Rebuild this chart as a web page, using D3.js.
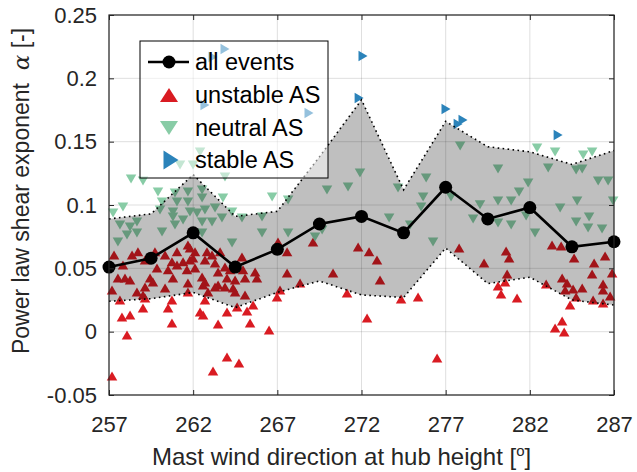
<!DOCTYPE html>
<html><head><meta charset="utf-8">
<script src="https://cdn.jsdelivr.net/npm/d3@7"></script>
<style>
body{margin:0;background:#fff}
svg{display:block}
text{font-family:"Liberation Sans",Arial,Helvetica,sans-serif;fill:#262626;white-space:pre}
</style>
</head><body>
<svg id="chart" width="637" height="472"></svg>
<script>
// ---------- data ----------
const binDir = [257,259.5,262,264.5,267,269.5,272,274.5,277,279.5,282,284.5,287];
const meanAlpha  = [0.051,0.058,0.078,0.051,0.065,0.085,0.091,0.078,0.114,0.089,0.098,0.067,0.071];
const upperAlpha = [0.089,0.093,0.124,0.091,0.095,0.138,0.183,0.112,0.166,0.146,0.142,0.132,0.143];
const lowerAlpha = [0.024,0.026,0.031,0.019,0.031,0.040,0.029,0.027,0.066,0.038,0.043,0.025,0.021];

const xTicks = [257,262,267,272,277,282,287];
const yTicks = [-0.05,0,0.05,0.1,0.15,0.2,0.25];
const yTickLabels = ["-0.05","0","0.05","0.1","0.15","0.2","0.25"];
const legendLabels = ["all events","unstable AS","neutral AS","stable AS"];

const unstable = [
 [257.30,0.0606],[258.37,0.0606],[258.72,0.0630],[259.73,0.0630],[260.33,0.0606],[261.04,0.0630],
 [261.69,0.0685],[261.81,0.0661],[262.11,0.0630],[262.82,0.0630],[263.12,0.0606],[263.60,0.0630],
 [264.90,0.0590],[267.04,0.0708],[267.58,0.0630],[269.12,0.0708],[257.83,0.0527],[259.14,0.0566],
 [260.74,0.0551],[261.40,0.0551],[261.81,0.0566],[261.99,0.0582],[262.70,0.0566],[263.30,0.0543],
 [263.89,0.0511],[259.85,0.0503],[260.51,0.0488],[261.04,0.0527],[261.63,0.0488],[262.11,0.0503],
 [263.48,0.0472],[264.19,0.0488],[264.96,0.0488],[265.68,0.0472],[267.58,0.0464],[270.31,0.0464],
 [257.53,0.0424],[257.95,0.0424],[258.25,0.0408],[259.44,0.0424],[259.61,0.0393],[260.80,0.0424],
 [262.53,0.0432],[262.70,0.0393],[263.48,0.0369],[264.01,0.0424],[264.49,0.0408],[265.08,0.0424],
 [265.79,0.0424],[261.69,0.0385],[257.18,0.0329],[258.66,0.0314],[259.14,0.0353],[259.02,0.0290],
 [260.33,0.0345],[261.69,0.0314],[262.59,0.0369],[262.88,0.0314],[263.30,0.0353],[263.89,0.0353],
 [264.37,0.0345],[264.49,0.0314],[265.08,0.0290],[268.35,0.0385],[267.16,0.0329],[271.14,0.0306],
 [257.65,0.0250],[259.14,0.0266],[260.74,0.0250],[262.70,0.0250],[266.98,0.0274],[265.56,0.0211],
 [264.61,0.0195],[265.20,0.0164],[264.01,0.0156],[259.02,0.0187],[260.51,0.0187],[262.41,0.0156],
 [262.59,0.0132],[258.25,0.0132],[257.77,0.0116],[260.74,0.0069],[263.48,0.0061],[265.38,0.0069],
 [266.51,0.0013],[258.07,-0.0026],[257.18,-0.0350],[263.18,-0.0310],[264.01,-0.0200],[264.72,-0.0247],
 [271.80,0.0669],[272.45,0.0630],[272.92,0.0566],[273.10,0.0408],[272.33,0.0108],[274.35,0.0258],
 [275.36,0.0274],[277.80,0.0661],[279.28,0.0543],[280.59,0.0637],[280.77,0.0582],[280.65,0.0456],
 [280.53,0.0393],[280.11,0.0361],[280.29,0.0298],[281.24,0.0266],[283.32,0.0685],[283.86,0.0677],
 [284.63,0.0582],[286.47,0.0598],[285.82,0.0543],[283.92,0.0424],[284.21,0.0385],[282.97,0.0377],
 [284.10,0.0329],[284.57,0.0337],[285.11,0.0345],[285.70,0.0456],[286.89,0.0464],[286.35,0.0377],
 [286.35,0.0329],[286.77,0.0282],[285.76,0.0250],[286.35,0.0227],[284.75,0.0274],[284.39,0.0211],
 [283.50,0.0029],[283.92,0.0084],[284.04,-0.0002],[276.49,-0.0208]
];

const neutral = [
 [258.31,0.1206],[259.02,0.1190],[263.89,0.1221],[259.91,0.1103],[260.92,0.1095],[261.69,0.1103],
 [262.53,0.1119],[263.77,0.1056],[262.53,0.1056],[266.69,0.1063],[267.64,0.1040],[269.95,0.1119],
 [271.20,0.1142],[261.22,0.1316],[261.99,0.1316],[262.41,0.1419],
 [260.15,0.1024],[261.04,0.1024],[261.69,0.1024],[257.83,0.0985],[257.24,0.0937],[260.03,0.0961],
 [260.80,0.0945],[261.81,0.0945],[262.70,0.0961],[263.30,0.0977],[260.80,0.0906],[261.40,0.0882],
 [262.53,0.0866],[263.12,0.0866],[263.71,0.0898],[264.90,0.0898],[266.09,0.0906],[264.31,0.0945],
 [262.23,0.0937],
 [257.65,0.0842],[258.25,0.0827],[258.66,0.0866],[258.07,0.0763],[258.66,0.0779],[257.53,0.0708],
 [260.92,0.0842],[260.15,0.0787],[262.53,0.0779],[264.31,0.0700],[266.09,0.0779],[267.64,0.0779],
 [269.24,0.0748],[269.66,0.0803],
 [271.91,0.1253],[274.17,0.1135],[275.84,0.1213],[277.86,0.1466],[280.11,0.1284],[282.43,0.1450],
 [283.50,0.1419],[283.09,0.1292],[284.75,0.1276],[285.11,0.1284],[285.17,0.1395],[285.70,0.1419],
 [286.06,0.1190],[286.65,0.1190],[286.95,0.1032],[275.66,0.1063],[275.54,0.0985],[277.32,0.1063],
 [279.04,0.1001],[280.11,0.1032],[280.89,0.1032],[281.36,0.1103],[281.90,0.1174],[273.64,0.0898],
 [274.89,0.0842],[276.25,0.0708],[278.63,0.0890],[280.11,0.0858],[280.89,0.0842],[281.78,0.0914],
 [282.31,0.0779],[283.80,0.0977],[284.81,0.1032],[285.52,0.0906],[284.75,0.0866],[285.46,0.0819],
 [286.29,0.0811]
];

const stable = [
 [263.18,0.2168],[263.89,0.2231],[262.70,0.1789],[268.88,0.1726],[272.09,0.2176],[271.86,0.1845],
 [277.02,0.1758],[277.74,0.1640],[278.03,0.1671],[283.68,0.1553]
];

// ---------- layout ----------
const m = {left:109, right:614, top:15, bottom:395};
const colRed = "#d91b22", colGreen = "#88cca6", colBlue = "#2b83ba", axisCol = "#262626";

const svg = d3.select("#chart");
const x = d3.scaleLinear().domain([257,287]).range([m.left, m.right]);
const y = d3.scaleLinear().domain([-0.05,0.25]).range([m.bottom, m.top]);

// marker shapes
function triUp(w,h){return `M0,${-h/2}L${w/2},${h/2}L${-w/2},${h/2}Z`;}
function triDown(w,h){return `M0,${h/2}L${w/2},${-h/2}L${-w/2},${-h/2}Z`;}
function triRight(w,h){return `M${w/2},0L${-w/2},${-h/2}L${-w/2},${h/2}Z`;}

// grid
const grid = svg.append("g");
grid.selectAll("line.gx").data(xTicks).join("line")
  .attr("x1",d=>x(d)).attr("x2",d=>x(d)).attr("y1",m.top).attr("y2",m.bottom)
  .attr("stroke",axisCol).attr("stroke-opacity",0.15).attr("stroke-width",1);
grid.selectAll("line.gy").data(yTicks).join("line")
  .attr("y1",d=>y(d)).attr("y2",d=>y(d)).attr("x1",m.left).attr("x2",m.right)
  .attr("stroke",axisCol).attr("stroke-opacity",0.15).attr("stroke-width",1);

// scatter markers
const pts = svg.append("g");
pts.selectAll("path.u").data(unstable).join("path")
  .attr("d",triUp(10.5,9)).attr("transform",d=>`translate(${x(d[0])},${y(d[1])})`).attr("fill",colRed);
pts.selectAll("path.n").data(neutral).join("path")
  .attr("d",triDown(10.5,9)).attr("transform",d=>`translate(${x(d[0])},${y(d[1])})`).attr("fill",colGreen);
pts.selectAll("path.s").data(stable).join("path")
  .attr("d",triRight(9,10.5)).attr("transform",d=>`translate(${x(d[0])},${y(d[1])})`).attr("fill",colBlue);

// band
const bandData = binDir.map((d,i)=>({d, lo:lowerAlpha[i], hi:upperAlpha[i]}));
svg.append("path").datum(bandData)
  .attr("d", d3.area().x(d=>x(d.d)).y0(d=>y(d.lo)).y1(d=>y(d.hi)))
  .attr("fill","#000").attr("fill-opacity",0.25);
[ "hi","lo" ].forEach(k=>{
  svg.append("path").datum(bandData)
    .attr("d", d3.line().x(d=>x(d.d)).y(d=>y(d[k])))
    .attr("fill","none").attr("stroke","#000").attr("stroke-width",1.6)
    .attr("stroke-dasharray","1.6,3.4");
});

// mean line
const meanData = binDir.map((d,i)=>[d, meanAlpha[i]]);
svg.append("path").datum(meanData)
  .attr("d", d3.line().x(d=>x(d[0])).y(d=>y(d[1])))
  .attr("fill","none").attr("stroke","#000").attr("stroke-width",2.6);
svg.append("g").selectAll("circle").data(meanData).join("circle")
  .attr("cx",d=>x(d[0])).attr("cy",d=>y(d[1])).attr("r",6.5).attr("fill","#000");

// axes
const gB = svg.append("g").attr("transform",`translate(0,${m.bottom})`)
  .call(d3.axisBottom(x).tickValues(xTicks).tickFormat(d3.format("d")).tickSize(-5).tickSizeOuter(0).tickPadding(21));
const gT = svg.append("g").attr("transform",`translate(0,${m.top})`)
  .call(d3.axisTop(x).tickValues(xTicks).tickFormat("").tickSize(-5).tickSizeOuter(0));
const gL = svg.append("g").attr("transform",`translate(${m.left},0)`)
  .call(d3.axisLeft(y).tickValues(yTicks).tickFormat((d,i)=>yTickLabels[i]).tickSize(-5).tickSizeOuter(0).tickPadding(12));
const gR = svg.append("g").attr("transform",`translate(${m.right},0)`)
  .call(d3.axisRight(y).tickValues(yTicks).tickFormat("").tickSize(-5).tickSizeOuter(0));
[gB,gT,gL,gR].forEach(g=>{
  g.select(".domain").remove();
  g.selectAll(".tick line").attr("stroke",axisCol).attr("stroke-width",1);
  g.selectAll(".tick text").attr("fill",axisCol).style("font-size","22px")
    .style("font-family",'"Liberation Sans",Arial,Helvetica,sans-serif');
});
svg.append("rect").attr("x",m.left).attr("y",m.top)
  .attr("width",m.right-m.left).attr("height",m.bottom-m.top)
  .attr("fill","none").attr("stroke",axisCol).attr("stroke-width",1.2);

// axis labels
const xl = svg.append("text").attr("x",152).attr("y",465).style("font-size","24px");
xl.append("tspan").text("Mast wind direction at hub height [");
xl.append("tspan").text("o").style("font-size","15px").attr("dy",-9);
xl.append("tspan").text("]").attr("dy",9);

const yl = svg.append("text").attr("transform","translate(29,191) rotate(-90)")
  .attr("text-anchor","middle").style("font-size","23px");
yl.append("tspan").text("Power law shear exponent  ");
yl.append("tspan").text("α").style("font-family",'"DejaVu Serif","Liberation Serif",serif').style("font-style","italic");
yl.append("tspan").text(" [-]");

// legend
const lg = svg.append("g");
lg.append("rect").attr("x",140).attr("y",41).attr("width",188).attr("height",137)
  .attr("fill","#fff").attr("fill-opacity",0.5).attr("stroke","#000").attr("stroke-width",1);
const rowY = [62,95,128,160];
lg.append("line").attr("x1",148).attr("x2",189).attr("y1",rowY[0]).attr("y2",rowY[0])
  .attr("stroke","#000").attr("stroke-width",2.6);
lg.append("circle").attr("cx",169).attr("cy",rowY[0]).attr("r",6.5).attr("fill","#000");
lg.append("path").attr("d",triUp(18,14)).attr("transform",`translate(169,${rowY[1]})`).attr("fill",colRed);
lg.append("path").attr("d",triDown(18,14)).attr("transform",`translate(169,${rowY[2]})`).attr("fill",colGreen);
lg.append("path").attr("d",triRight(15,19)).attr("transform",`translate(171,${rowY[3]})`).attr("fill",colBlue);
lg.selectAll("text.lt").data(legendLabels).join("text")
  .attr("x",195).attr("y",(d,i)=>rowY[i]+8).style("font-size","23.5px").style("fill","#000").text(d=>d);
</script>
</body></html>
